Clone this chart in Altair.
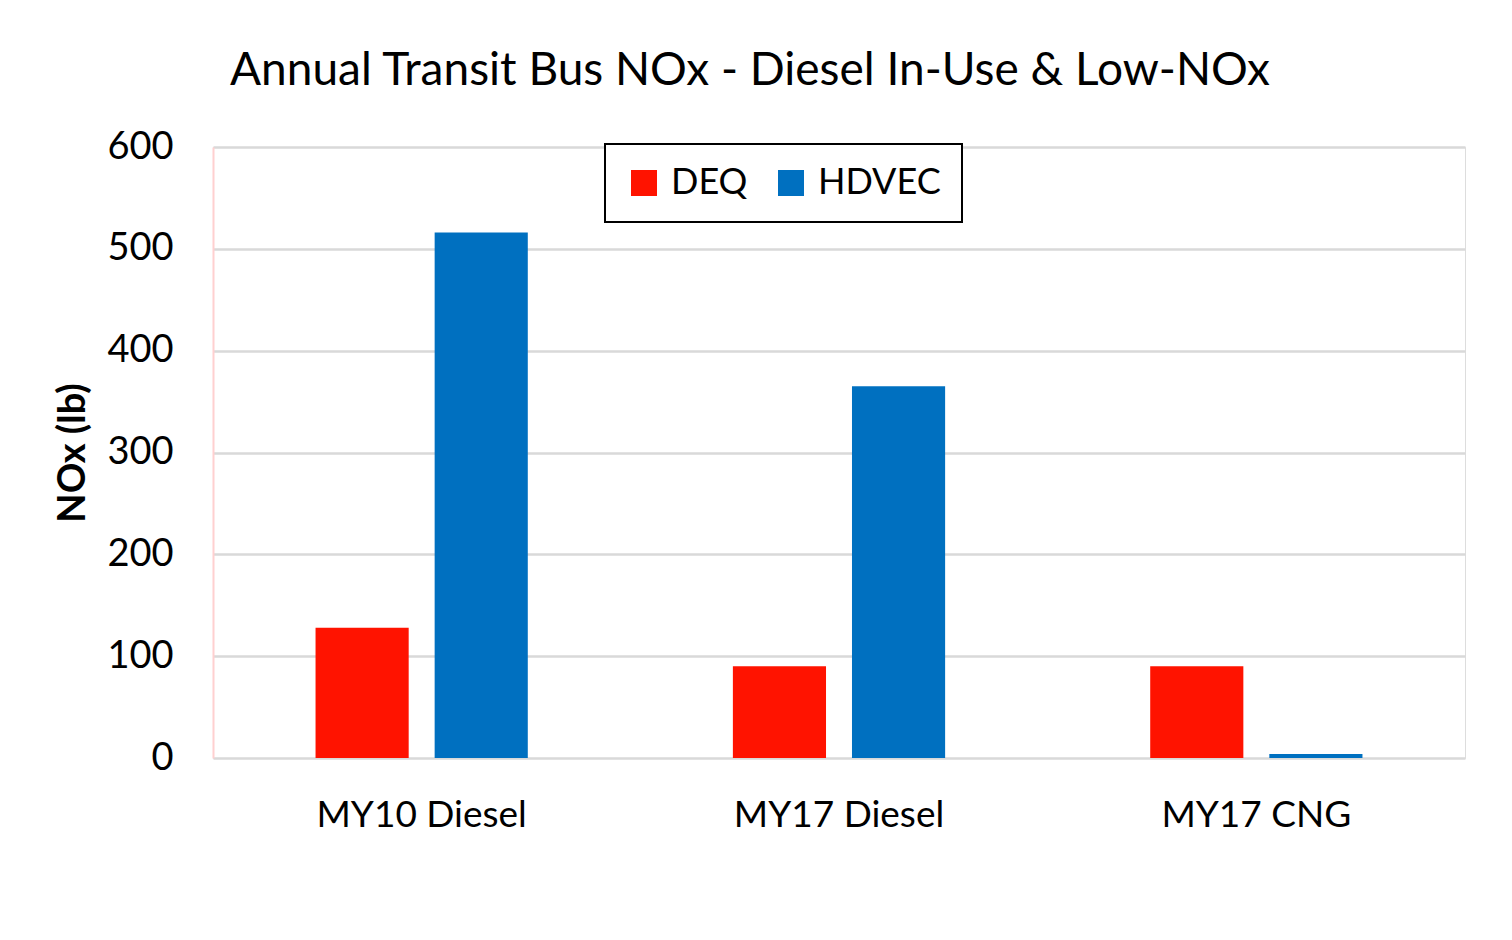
import altair as alt
import pandas as pd

categories = ["MY10 Diesel", "MY17 Diesel", "MY17 CNG"]
series = ["DEQ", "HDVEC"]
deq_values = [128, 90, 90]
hdvec_values = [516, 365, 4]
colors = ["#FF1300", "#0070C0"]
y_ticks = [0, 100, 200, 300, 400, 500, 600]

rows = []
for c, d, h in zip(categories, deq_values, hdvec_values):
    rows.append({"cat": c, "series": "DEQ", "value": d})
    rows.append({"cat": c, "series": "HDVEC", "value": h})
df = pd.DataFrame(rows)

FONT = "Lato"

chart = alt.Chart(df).mark_bar().encode(
    x=alt.X("cat:N", sort=categories,
            scale=alt.Scale(paddingInner=0, paddingOuter=0),
            axis=alt.Axis(title=None, labelAngle=0, labelFontSize=37, labelFont=FONT,
                          labelColor="#000000", labelPadding=39, labelBaseline="top",
                          labelLimit=0, domain=False, ticks=False)),
    xOffset=alt.XOffset("series:N", sort=series,
                        scale=alt.Scale(paddingInner=0.218, paddingOuter=0.861)),
    y=alt.Y("value:Q", scale=alt.Scale(domain=[0, 600], nice=False),
            axis=alt.Axis(title="NOx (lb)", values=y_ticks, labelFontSize=38, labelFont=FONT,
                          labelColor="#000000", labelPadding=40, ticks=False,
                          domainColor="#FFD0D0", domainWidth=2,
                          grid=True, gridColor="#D9D9D9", gridWidth=2.5,
                          titleFont=FONT, titleFontSize=38, titleFontWeight="bold",
                          titleColor="#000000", titlePadding=14)),
    color=alt.Color("series:N", sort=series,
                    scale=alt.Scale(domain=series, range=colors),
                    legend=alt.Legend(title=None, orient="none", legendX=392, legendY=-3,
                                      direction="horizontal", symbolType="square",
                                      symbolSize=676, symbolStrokeWidth=0,
                                      labelFontSize=36, labelFont=FONT, labelColor="#000000",
                                      strokeColor="#000000",
                                      padding=21, columnPadding=25, labelOffset=9,
                                      fillColor="#FFFFFF")),
).properties(
    width=1252,
    height=611,
    title=alt.TitleParams("Annual Transit Bus NOx - Diesel In-Use & Low-NOx",
                          font=FONT, fontSize=46, fontWeight="normal", color="#000000",
                          anchor="start", frame="group", dx=17, offset=33),
    autosize=alt.AutoSizeParams(type="none"),
    padding={"left": 205, "top": 139, "right": 30, "bottom": 120},
).configure_view(stroke=None).configure(background="#FFFFFF").configure_legend(strokeWidth=2)

chart.save("out.html", embed_options={"renderer": "svg", "actions": False})
